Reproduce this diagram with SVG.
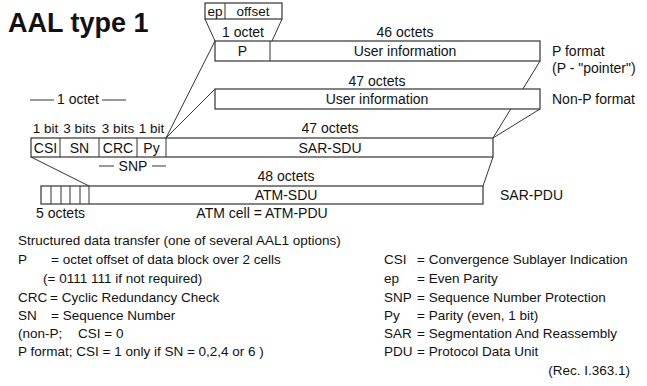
<svg xmlns="http://www.w3.org/2000/svg" width="647" height="386" viewBox="0 0 647 386">
<style>
.b{fill:#fff;stroke:#333;stroke-width:1.2}
.l{fill:none;stroke:#333;stroke-width:1}
text{font-family:"Liberation Sans",Arial,sans-serif;font-size:14px;fill:#111}
.m{text-anchor:middle}
.s{font-size:13.5px}
.t{font-size:27px;font-weight:bold}
#legend text{font-size:13.5px}
</style>
<rect width="647" height="386" fill="#fff"/>
<text class="t" x="8" y="32">AAL type 1</text>
<g id="connectors">
<polyline class="l" points="205,19 215,41"/>
<polyline class="l" points="282,19 272,41"/>
<line class="l" x1="215" y1="41" x2="166" y2="138"/>
<line class="l" x1="215" y1="89" x2="166" y2="138"/>
<line class="l" x1="540" y1="61" x2="493" y2="138"/>
<line class="l" x1="540" y1="109" x2="493" y2="138"/>
<line class="l" x1="31" y1="157" x2="89" y2="186"/>
<line class="l" x1="493" y1="157" x2="483" y2="186"/>
</g>
<g id="ep-offset">
<rect class="b" x="205" y="3" width="77" height="16"/>
<line class="l" x1="225" y1="3" x2="225" y2="19"/>
<text class="m s" x="215" y="15.5">ep</text>
<text class="m s" x="253" y="15.5">offset</text>
</g>
<g id="p-format">
<text class="m" x="243" y="37">1 octet</text>
<text class="m" x="405" y="37">46 octets</text>
<rect class="b" x="215" y="41" width="325" height="20"/>
<line class="l" x1="270" y1="41" x2="270" y2="61"/>
<text class="m" x="242.5" y="56">P</text>
<text class="m" x="405" y="56">User information</text>
<text x="552" y="56">P format</text>
<text x="552" y="73">(P - "pointer")</text>
</g>
<g id="non-p-format">
<text class="m" x="377" y="86">47 octets</text>
<rect class="b" x="215" y="89" width="325" height="20"/>
<text class="m" x="377" y="104">User information</text>
<text x="552" y="104">Non-P format</text>
<line class="l" x1="30" y1="100" x2="54" y2="100"/>
<text class="m" x="78" y="104">1 octet</text>
<line class="l" x1="102" y1="100" x2="126" y2="100"/>
</g>
<g id="sar-pdu">
<text class="m s" x="45.5" y="133">1 bit</text>
<text class="m s" x="79.5" y="133">3 bits</text>
<text class="m s" x="118" y="133">3 bits</text>
<text class="m s" x="151.5" y="133">1 bit</text>
<text class="m" x="330" y="133">47 octets</text>
<rect class="b" x="31" y="138" width="462" height="19"/>
<line class="l" x1="60" y1="138" x2="60" y2="157"/>
<line class="l" x1="99" y1="138" x2="99" y2="157"/>
<line class="l" x1="137" y1="138" x2="137" y2="157"/>
<line class="l" x1="166" y1="138" x2="166" y2="157"/>
<text class="m" x="45.5" y="152.5">CSI</text>
<text class="m" x="79.5" y="152.5">SN</text>
<text class="m" x="118" y="152.5">CRC</text>
<text class="m" x="151.5" y="152.5">Py</text>
<text class="m" x="330" y="152.5">SAR-SDU</text>
<line class="l" x1="99" y1="166" x2="114" y2="166"/>
<text class="m" x="133" y="170.5">SNP</text>
<line class="l" x1="152" y1="166" x2="166" y2="166"/>
<text x="500" y="200">SAR-PDU</text>
</g>
<g id="atm-cell">
<text class="m" x="286" y="181">48 octets</text>
<rect class="b" x="41" y="186" width="442" height="18"/>
<line class="l" x1="51" y1="186" x2="51" y2="204" stroke="#999"/>
<line class="l" x1="61" y1="186" x2="61" y2="204"/>
<line class="l" x1="70" y1="186" x2="70" y2="204"/>
<line class="l" x1="80" y1="186" x2="80" y2="204"/>
<line class="l" x1="89" y1="186" x2="89" y2="204"/>
<text class="m" x="286" y="200">ATM-SDU</text>
<text x="36" y="218">5 octets</text>
<text class="m" x="262" y="218">ATM cell = ATM-PDU</text>
</g>
<g id="legend">
<text x="18" y="245">Structured data transfer (one of several AAL1 options)</text>
<text x="18" y="264">P</text><text x="51" y="264">= octet offset of data block over 2 cells</text>
<text x="43" y="283">(= 0111 111 if not required)</text>
<text x="18" y="302">CRC</text><text x="50" y="302">= Cyclic Redundancy Check</text>
<text x="18" y="320">SN</text><text x="51" y="320">= Sequence Number</text>
<text x="18" y="338">(non-P;</text><text x="78" y="338">CSI = 0</text>
<text x="18" y="356">P format; CSI = 1 only if  SN = 0,2,4 or 6 )</text>
<text x="384" y="264">CSI</text><text x="417" y="264">= Convergence Sublayer Indication</text>
<text x="384" y="283">ep</text><text x="417" y="283">= Even Parity</text>
<text x="384" y="302">SNP</text><text x="417" y="302">= Sequence Number Protection</text>
<text x="384" y="320">Py</text><text x="417" y="320">= Parity (even, 1 bit)</text>
<text x="384" y="338">SAR</text><text x="417" y="338">= Segmentation And Reassembly</text>
<text x="384" y="356">PDU</text><text x="417" y="356">= Protocol Data Unit</text>
<text x="630" y="375" text-anchor="end">(Rec. I.363.1)</text>
</g>
</svg>
